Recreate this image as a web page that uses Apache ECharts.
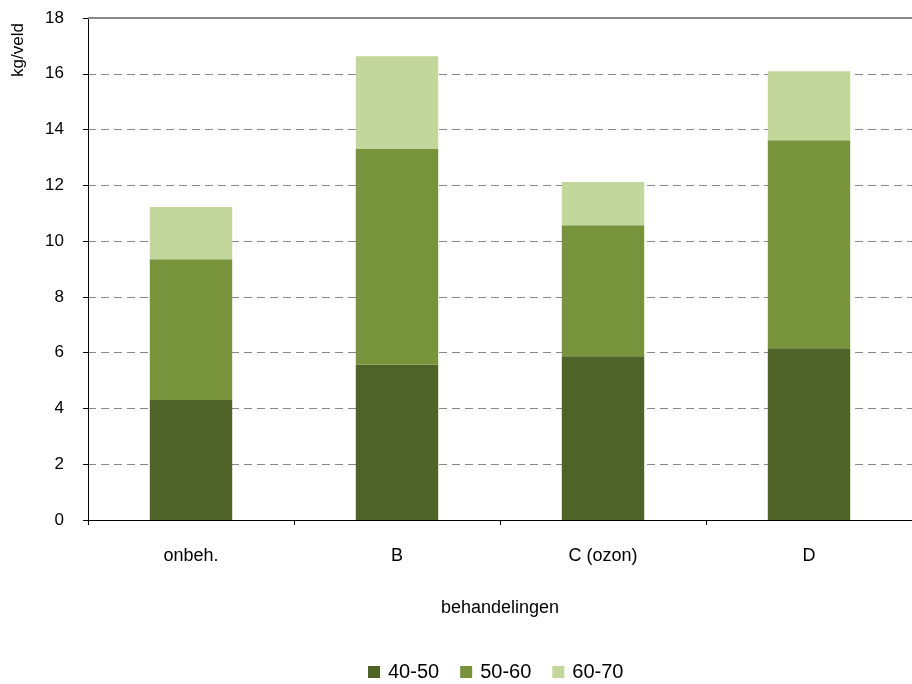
<!DOCTYPE html>
<html><head><meta charset="utf-8">
<script src="https://cdn.jsdelivr.net/npm/echarts@6/dist/echarts.min.js"></script>
<style>html,body{margin:0;padding:0;background:#fff}#c{width:912px;height:684px}</style>
</head><body><div id="c"></div>
<script>
const categories = ['onbeh.', 'B', 'C (ozon)', 'D'];
const s4050 = [4.3, 5.57, 5.87, 6.16];
const s5060 = [5.05, 7.73, 4.7, 7.46];
const s6070 = [1.87, 3.33, 1.55, 2.47];
const seriesNames = ['40-50', '50-60', '60-70'];
const colors = ['#4F6228', '#77933C', '#C3D69B'];
const font = 'Liberation Sans, Arial, sans-serif';

const chart = echarts.init(document.getElementById('c'));
const mk = (name, data, color, extra) => Object.assign({
  name, type: 'bar', stack: 'a', data, barWidth: '40%',
  itemStyle: { color }, emphasis: { disabled: true }
}, extra || {});
chart.setOption({
  animation: false,
  textStyle: { fontFamily: font },
  grid: { left: 88, right: -6, top: 18, bottom: 164, containLabel: false },
  legend: {
    top: 657, left: 363, itemWidth: 12, itemHeight: 12, itemGap: 21,
    icon: 'rect', textStyle: { fontSize: 20, color: '#000', fontFamily: font, padding: [0, 0, 0, 3] },
    data: seriesNames
  },
  xAxis: {
    type: 'category', data: categories,
    name: 'behandelingen', nameLocation: 'middle', nameGap: 79,
    nameTextStyle: { fontSize: 18, color: '#000' },
    axisLine: { lineStyle: { color: '#000', width: 1 } },
    axisTick: { show: true, length: 5, lineStyle: { color: '#000' } },
    axisLabel: { fontSize: 18, color: '#000', margin: 27 }
  },
  yAxis: {
    type: 'value', min: 0, max: 18, interval: 2,
    axisLine: { show: true, lineStyle: { color: '#000' } },
    axisTick: { show: true, length: 5, lineStyle: { color: '#000' } },
    axisLabel: { fontSize: 17, color: '#000', margin: 24 },
    splitLine: { show: true, lineStyle: { color: '#888', type: [8, 5], width: 1 } }
  },
  graphic: [{
    type: 'text', x: 18, y: 50, rotation: Math.PI / 2,
    style: { text: 'kg/veld', fontSize: 17, fontFamily: font, fill: '#000', align: 'center', verticalAlign: 'middle' }
  }],
  series: [
    mk(seriesNames[0], s4050, colors[0]),
    mk(seriesNames[1], s5060, colors[1]),
    mk(seriesNames[2], s6070, colors[2], {
      markLine: { silent: true, symbol: 'none', label: { show: false },
        lineStyle: { color: '#888', type: 'solid', width: 2 }, data: [{ yAxis: 18 }] }
    })
  ]
});
</script></body></html>
